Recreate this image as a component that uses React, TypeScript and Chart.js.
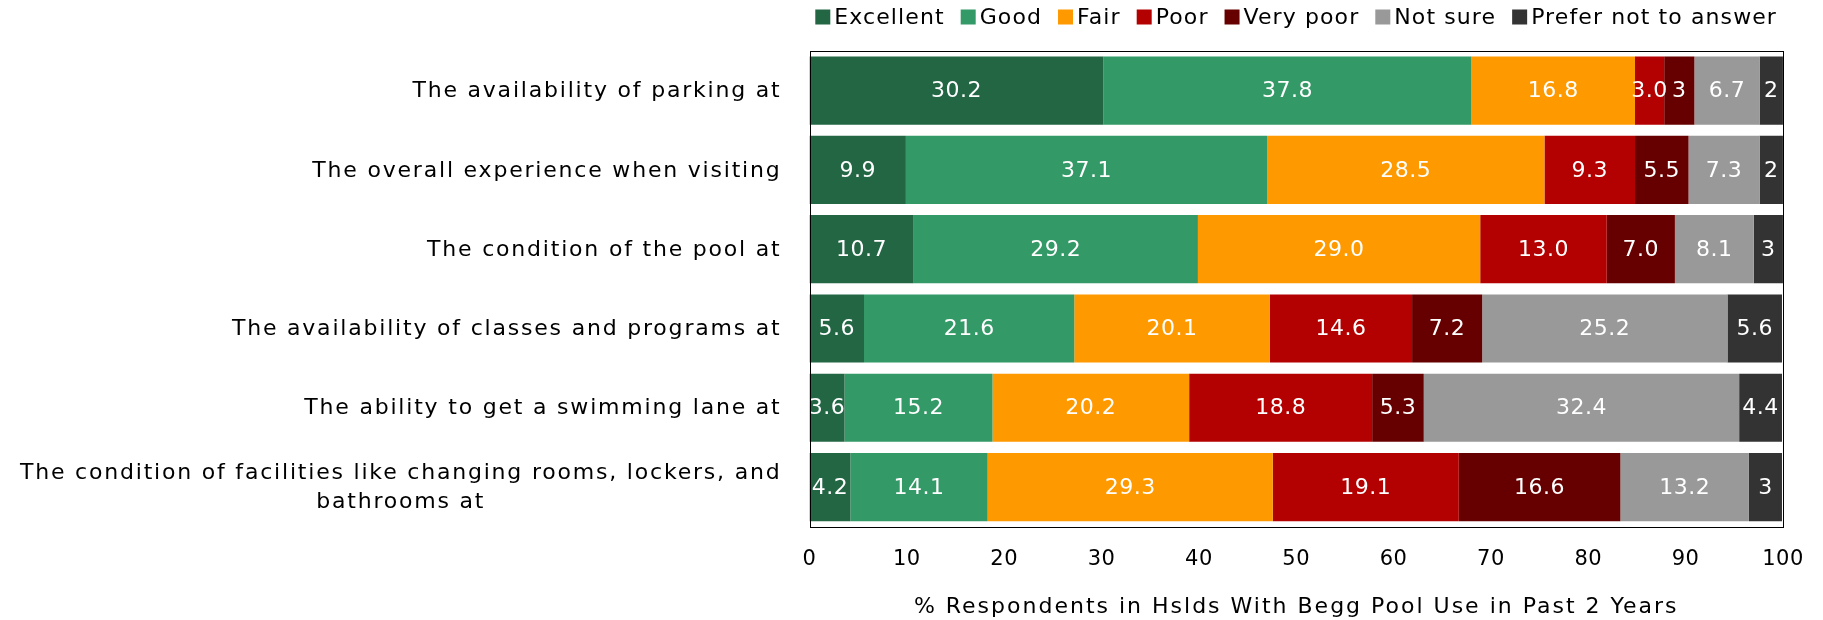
import React, { useEffect, useRef } from "react";
import { Chart, registerables } from "chart.js";

Chart.register(...registerables);

const categories: (string | string[])[] = [
  "The availability of parking at",
  "The overall experience when visiting",
  "The condition of the pool at",
  "The availability of classes and programs at",
  "The ability to get a swimming lane at",
  ["The condition of facilities like changing rooms, lockers, and", "bathrooms at"],
];

const seriesNames = ["Excellent", "Good", "Fair", "Poor", "Very poor", "Not sure", "Prefer not to answer"];
const seriesColors = ["#226644", "#339966", "#FF9900", "#B30000", "#660000", "#999999", "#333333"];

const excellent = [30.2, 9.9, 10.7, 5.6, 3.6, 4.2];
const good = [37.8, 37.1, 29.2, 21.6, 15.2, 14.1];
const fair = [16.8, 28.5, 29.0, 20.1, 20.2, 29.3];
const poor = [3.0, 9.3, 13.0, 14.6, 18.8, 19.1];
const veryPoor = [3.1, 5.5, 7.0, 7.2, 5.3, 16.6];
const notSure = [6.7, 7.3, 8.1, 25.2, 32.4, 13.2];
const preferNot = [2.4, 2.4, 3.0, 5.6, 4.4, 3.4];

// decimals shown in each bar's label
const oneDecimal = [1, 1, 1, 1, 1, 1];
const veryPoorDecimals = [0, 1, 1, 1, 1, 1];
const preferNotDecimals = [0, 0, 0, 1, 1, 0];

const xTicks = [0, 10, 20, 30, 40, 50, 60, 70, 80, 90, 100];
const xTitle = "% Respondents in Hslds With Begg Pool Use in Past 2 Years";

const FONT = "'DejaVu Sans', sans-serif";

const seriesValues = [excellent, good, fair, poor, veryPoor, notSure, preferNot];
const seriesDecimals = [oneDecimal, oneDecimal, oneDecimal, oneDecimal, veryPoorDecimals, oneDecimal, preferNotDecimals];

const overlayPlugin = {
  id: "overlay",
  beforeDraw(chart: any) {
    (chart.ctx as any).letterSpacing = "0.5px";
  },
  afterDatasetsDraw(chart: any) {
    const ctx = chart.ctx;
    ctx.save();
    // data labels
    ctx.font = `22px ${FONT}`;
    (ctx as any).letterSpacing = "0.5px";
    ctx.fillStyle = "#FFFFFF";
    ctx.textAlign = "center";
    ctx.textBaseline = "middle";
    chart.data.datasets.forEach((ds: any, di: number) => {
      const meta = chart.getDatasetMeta(di);
      meta.data.forEach((el: any, i: number) => {
        const v = ds.data[i];
        const txt = v.toFixed(seriesDecimals[di][i]);
        const cx = (el.x + el.base) / 2;
        ctx.fillText(txt, cx, el.y + 1);
      });
    });
    // plot border
    const a = chart.chartArea;
    ctx.strokeStyle = "#000000";
    ctx.lineWidth = 1;
    ctx.strokeRect(Math.round(a.left) + 0.5, Math.round(a.top) + 0.5, Math.round(a.right - a.left), Math.round(a.bottom - a.top));
    ctx.restore();
  },
  afterDraw(chart: any) {
    const ctx = chart.ctx;
    const a = chart.chartArea;
    const yScale = chart.scales.y;
    ctx.save();
    // category labels
    ctx.font = `22px ${FONT}`;
    (ctx as any).letterSpacing = "1.8px";
    ctx.fillStyle = "#000000";
    ctx.textAlign = "center";
    ctx.textBaseline = "middle";
    const xr = a.left - 28;
    const lineH = 29;
    categories.forEach((c, i) => {
      const lines = Array.isArray(c) ? c : [c];
      const w = Math.max(...lines.map((l) => ctx.measureText(l).width));
      const cx = xr - w / 2;
      const yc = yScale.getPixelForValue(i);
      lines.forEach((l, li) => {
        ctx.fillText(l, cx, yc + (li - (lines.length - 1) / 2) * lineH + 1);
      });
    });
    // axis title
    (ctx as any).letterSpacing = "2px";
    ctx.fillText(xTitle, (a.left + a.right) / 2, 607);
    // legend
    ctx.font = `22px ${FONT}`;
    (ctx as any).letterSpacing = "1.1px";
    ctx.textAlign = "left";
    const box = 15;
    const gapBoxText = 4;
    const gapItems = 16;
    const widths = seriesNames.map((n) => ctx.measureText(n).width);
    const total = widths.reduce((s, w) => s + box + gapBoxText + w, 0) + gapItems * (seriesNames.length - 1);
    let x = 1777 - total;
    const ly = 17;
    seriesNames.forEach((n, i) => {
      ctx.fillStyle = seriesColors[i];
      ctx.fillRect(x, ly - box / 2, box, box);
      ctx.fillStyle = "#000000";
      ctx.fillText(n, x + box + gapBoxText, ly + 1);
      x += box + gapBoxText + widths[i] + gapItems;
    });
    ctx.restore();
  },
};

export default function App() {
  const ref = useRef<HTMLCanvasElement | null>(null);
  useEffect(() => {
    if (!ref.current) return;
    const chart = new Chart(ref.current, {
      type: "bar",
      data: {
        labels: categories.map((c) => (Array.isArray(c) ? c.join(" ") : c)),
        datasets: seriesNames.map((name, i) => ({
          label: name,
          data: seriesValues[i],
          backgroundColor: seriesColors[i],
          borderWidth: 0,
          barPercentage: 0.86,
          categoryPercentage: 1,
        })),
      },
      options: {
        indexAxis: "y",
        responsive: false,
        animation: false,
        layout: { padding: { top: 51, right: 39.5, bottom: 0, left: 0 } },
        plugins: {
          legend: { display: false },
          tooltip: { enabled: false },
          title: { display: false },
        },
        scales: {
          x: {
            type: "linear",
            stacked: true,
            min: 0,
            max: 100,
            afterBuildTicks: (scale: any) => {
              scale.ticks = xTicks.map((v) => ({ value: v }));
            },
            ticks: {
              font: { family: FONT, size: 21 },
              color: "#000000",
              padding: 20,
            },
            grid: { display: false, drawTicks: false },
            border: { display: false },
            title: { display: false },
            afterFit: (scale: any) => {
              scale.height = 93.3;
            },
          },
          y: {
            type: "category",
            stacked: true,
            ticks: { display: false },
            grid: { display: false, drawTicks: false },
            border: { display: false },
            afterFit: (scale: any) => {
              scale.width = 809.5;
            },
          },
        },
      },
      plugins: [overlayPlugin],
    });
    return () => chart.destroy();
  }, []);
  return (
    <div style={{ position: "absolute", left: 0, top: 0 }}>
      <canvas ref={ref} width={1823} height={620} style={{ display: "block" }} />
    </div>
  );
}
